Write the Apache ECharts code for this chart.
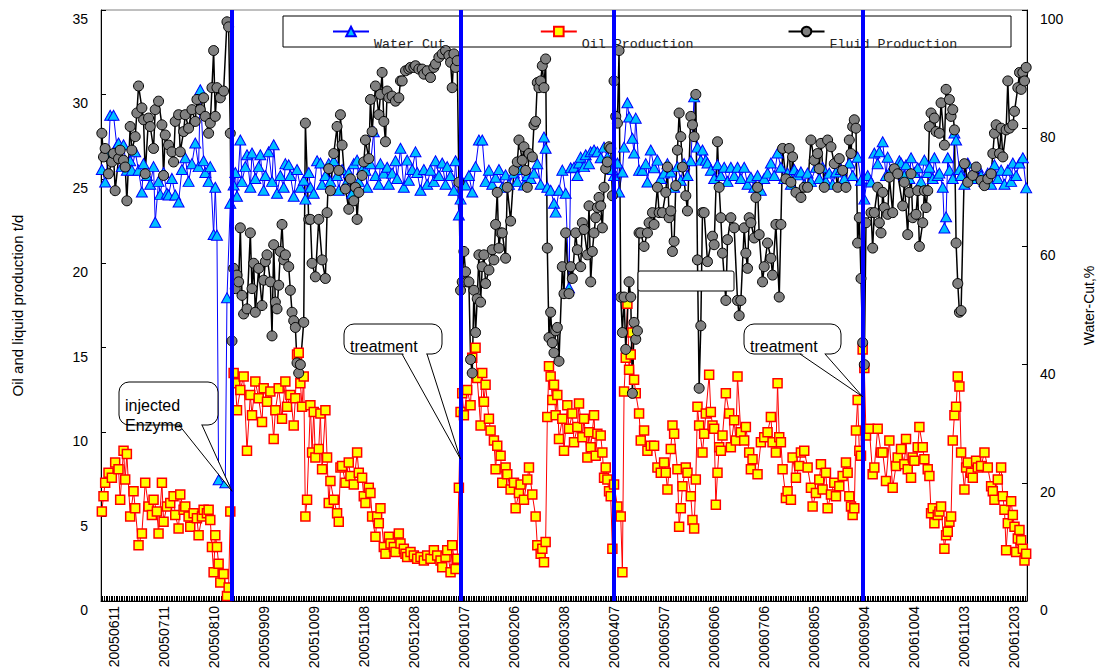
<!DOCTYPE html>
<html>
<head>
<meta charset="utf-8">
<script src="https://cdn.jsdelivr.net/npm/echarts@6/dist/echarts.min.js"></script>
<style>html,body{margin:0;padding:0;background:#fff}#chart{width:1101px;height:669px}</style>
</head>
<body>
<div id="chart"></div>
<script>
// ---------------- data ----------------
const startDate = [2005, 6, 4];      // first category (y, m, d)
const dayCount = 555;                // daily categories
const labelOffset = 7;               // first labelled category (20050611)
const labelStep = 30;                // one label every 30 days
const seriesNames = ['Water Cut', 'Oil Production', 'Fluid Production'];
const treatmentDays = [78, 215, 307, 456];
const leftAxis = { min: 0, max: 35, step: 5, title: 'Oil and liquid production t/d' };
const rightAxis = { min: 0, max: 100, step: 20, title: 'Water-Cut,%' };
const calloutTexts = ['injected\nEnzyme', 'treatment', 'treatment'];
const calloutTargets = [[78, 6.5], [215, 8.4], [456, 12.1]]; // [day, t/d]

// [day index, value]
const waterCut = [
[0,73.0],[2,70.9],[4,75.5],[5,82.2],[7,82.2],[9,77.0],[10,77.5],[12,73.5],[13,77.2],[15,72.9],[17,74.5],[18,72.9],[20,76.0],[22,72.9],[24,69.2],[25,74.0],[27,72.0],[29,70.5],[31,73.5],[32,64.1],[34,71.0],[35,68.8],[37,72.5],[39,69.0],[40,68.7],[42,71.5],[44,68.7],[46,67.5],[48,73.0],[50,75.0],[52,71.0],[54,74.0],[56,77.5],[58,73.5],[59,86.5],[61,74.5],[62,72.5],[64,71.0],[65,73.5],[67,62.0],[68,70.0],[69,61.9],[70,20.5],[74,20.0],[75,51.3],[77,67.3],
[79,70.4],[80,72.5],[81,68.5],[83,78.0],[84,71.0],[86,73.5],[87,75.5],[89,70.0],[90,75.8],[92,71.5],[94,73.5],[95,75.5],[97,69.5],[98,72.0],[100,76.0],[102,71.0],[103,77.2],[105,69.0],[107,72.0],[109,70.0],[110,74.0],[112,73.8],[113,72.0],[115,68.5],[117,73.0],[119,70.0],[121,71.2],[122,68.0],[124,72.5],[125,70.0],[127,69.0],[129,74.5],[131,74.1],[132,70.5],[134,72.0],[136,74.0],[137,71.0],[139,74.5],[141,72.0],[142,69.5],[144,73.0],[146,70.5],[148,72.5],[150,69.0],[151,74.0],[153,74.6],[154,71.0],[156,73.0],[158,72.9],[159,70.0],[161,74.0],[163,79.4],[164,72.0],[166,70.5],[167,74.0],[169,72.4],[171,73.4],[172,70.5],[174,72.4],[176,74.5],[177,71.5],[179,76.6],[181,70.0],[183,74.6],[184,71.2],[186,73.0],[188,76.0],[189,72.5],[191,69.5],[193,73.0],[195,70.5],[197,72.9],[199,71.0],[200,74.5],[202,72.0],[204,74.1],[206,70.5],[207,73.5],[209,72.0],[211,69.5],[212,74.5],[214,65.3],
[215,68.0],[216,71.0],[218,70.4],[220,72.0],[222,69.2],[224,73.5],[226,78.0],[228,78.0],[230,71.0],[232,72.9],[234,70.5],[236,71.7],[238,73.0],[240,70.0],[242,72.1],[244,70.5],[247,72.4],[249,71.0],[251,73.0],[253,70.4],[255,72.0],[257,71.5],[259,72.4],[261,74.0],[263,70.5],[265,78.5],[266,76.6],[267,70.0],[269,69.5],[271,67.3],[272,65.8],[274,69.5],[276,72.9],[278,69.0],[280,53.0],[281,73.3],[283,73.4],[285,72.0],[286,74.1],[287,75.1],[289,73.5],[290,75.5],[292,74.0],[293,76.0],[295,76.3],[297,76.0],[299,75.0],[301,76.8],[303,75.1],[305,74.1],[306,73.0],
[307,72.0],[309,74.1],[310,69.2],[312,72.6],[313,76.8],[315,84.3],[316,81.9],[318,78.3],[319,75.8],[320,81.7],[322,72.9],[324,72.9],[326,74.0],[327,70.9],[329,76.3],[331,73.3],[333,74.6],[335,71.5],[337,72.4],[339,74.0],[341,72.6],[343,70.0],[345,73.5],[347,71.2],[349,74.0],[351,72.0],[353,74.5],[355,85.3],[357,76.8],[359,74.6],[360,76.3],[362,74.6],[363,74.1],[365,72.9],[367,71.5],[369,73.8],[371,72.0],[373,73.4],[375,71.0],[377,73.4],[379,72.0],[381,73.4],[383,71.5],[385,73.4],[387,70.5],[389,71.7],[391,70.0],[393,72.0],[395,69.5],[397,71.5],[399,72.4],[401,74.1],[403,72.0],[405,75.8],[407,73.4],[409,71.5],[411,72.4],[413,70.5],[415,73.0],[417,72.1],[419,72.6],[421,70.5],[423,72.4],[425,71.0],[428,73.4],[430,71.5],[432,73.4],[434,71.0],[436,72.4],[438,70.5],[440,72.6],[443,73.0],[445,71.5],[448,74.1],[450,72.0],[453,75.1],[455,71.2],
[457,68.0],[459,72.0],[461,70.9],[463,75.8],[465,74.0],[466,76.0],[468,77.7],[470,72.0],[471,75.1],[473,73.0],[476,72.9],[478,74.5],[479,74.1],[481,72.0],[482,73.8],[484,71.5],[485,75.0],[487,72.5],[489,73.3],[491,71.0],[493,74.6],[495,72.5],[496,73.4],[498,71.5],[499,75.0],[501,72.0],[502,72.4],[504,70.0],[505,63.1],[506,65.0],[507,75.0],[508,72.9],[510,71.5],[511,79.2],[512,78.0],[514,73.0],[515,72.0],[517,70.5],[519,74.1],[521,72.0],[523,71.5],[525,73.4],[527,72.0],[529,71.0],[531,72.4],[533,70.5],[535,73.8],[537,71.5],[539,72.9],[541,70.5],[543,72.9],[545,71.0],[546,74.1],[548,72.0],[550,74.1],[552,75.0],[554,69.9]
];

const oilProduction = [
[0,5.3],[1,6.2],[2,7.0],[4,7.6],[6,7.3],[8,8.2],[10,7.8],[11,6.0],[13,8.9],[14,7.2],[15,8.7],[17,5.0],[19,6.5],[20,5.5],[22,3.3],[24,4.0],[26,7.0],[28,5.6],[30,5.1],[31,6.0],[33,5.3],[34,4.0],[36,7.0],[37,4.7],[39,5.6],[41,5.8],[43,6.2],[44,5.1],[46,4.3],[47,6.3],[49,5.4],[50,5.6],[52,5.0],[53,4.4],[55,5.2],[57,4.9],[58,3.9],[60,5.0],[61,5.4],[63,5.2],[64,5.4],[65,4.8],[66,3.2],[67,1.7],[68,3.9],[69,3.2],[70,2.2],[71,1.1],[73,1.6],[75,0.3],[76,0.8],[77,5.3],
[79,13.5],[80,12.9],[81,11.3],[83,12.5],[85,13.3],[87,8.9],[89,12.2],[90,11.0],[92,13.0],[94,12.0],[96,10.6],[97,12.6],[99,11.8],[101,12.4],[103,9.6],[104,11.3],[106,12.6],[108,10.8],[110,13.0],[111,11.5],[113,12.2],[115,10.4],[116,12.0],[117,14.6],[118,14.7],[119,12.9],[120,11.5],[121,13.3],[122,5.0],[123,6.0],[125,11.6],[126,8.8],[127,11.2],[128,8.5],[130,9.0],[131,11.1],[132,7.8],[134,11.3],[135,8.5],[136,5.8],[137,7.1],[139,6.0],[141,5.2],[142,4.7],[143,7.9],[144,8.0],[146,7.0],[148,8.2],[149,7.4],[151,6.9],[153,8.8],[154,7.6],[156,7.3],[157,6.2],[158,5.8],[160,6.7],[161,6.4],[162,5.0],[164,3.8],[165,5.0],[166,4.6],[167,5.5],[169,3.2],[170,2.8],[172,3.8],[173,3.4],[175,3.2],[176,2.9],[178,4.0],[179,3.4],[181,3.1],[182,2.8],[183,2.6],[185,2.9],[187,2.7],[189,2.5],[191,2.6],[193,2.4],[195,2.7],[197,2.5],[199,3.0],[201,2.7],[203,2.4],[204,2.0],[206,2.6],[207,3.0],[209,1.7],[210,3.3],[212,1.9],[213,2.5],[214,6.7],
[215,11.2],[216,12.3],[217,11.0],[219,12.5],[221,11.6],[222,14.4],[224,15.0],[225,13.2],[227,10.4],[228,13.5],[229,11.8],[230,12.8],[232,10.8],[233,10.1],[235,9.5],[236,7.8],[237,9.2],[239,8.6],[240,7.0],[242,7.9],[243,7.5],[245,6.6],[247,7.0],[248,5.5],[250,6.4],[251,6.9],[253,6.0],[255,7.2],[256,7.9],[258,6.3],[260,5.0],[261,3.3],[263,2.8],[264,3.1],[265,2.3],[266,3.5],[267,10.9],[268,13.9],[269,13.3],[270,11.9],[271,12.8],[272,11.0],[273,12.2],[274,9.6],[276,10.8],[277,8.9],[279,11.6],[280,10.2],[282,11.1],[283,9.4],[285,10.3],[286,11.7],[288,9.7],[289,10.8],[291,8.5],[292,10.0],[293,9.1],[295,11.0],[296,8.6],[297,9.9],[299,9.8],[300,8.8],[301,7.3],[302,7.9],[303,7.2],[304,6.5],[305,6.2],[306,3.1],
[307,6.9],[309,5.6],[311,5.0],[312,1.7],[313,12.4],[314,14.4],[315,17.6],[316,13.7],[317,14.6],[318,15.9],[319,13.1],[320,12.3],[322,11.1],[323,9.5],[325,10.1],[327,8.9],[329,9.2],[331,9.2],[333,7.9],[335,7.6],[337,8.2],[338,7.6],[339,6.6],[341,9.0],[342,10.4],[343,9.9],[345,7.8],[346,4.4],[347,5.5],[348,6.8],[350,7.9],[351,7.6],[353,6.2],[354,4.8],[355,4.3],[356,7.2],[357,11.5],[358,10.4],[360,8.8],[361,9.9],[362,11.1],[364,13.4],[365,11.2],[366,10.4],[367,10.2],[368,5.7],[369,7.6],[370,9.1],[371,8.9],[372,9.8],[374,12.3],[376,11.1],[377,9.1],[379,10.7],[380,9.5],[381,13.3],[383,10.0],[385,9.5],[386,10.3],[388,8.8],[389,7.8],[390,8.4],[393,7.5],[395,9.4],[397,9.7],[399,10.0],[401,10.9],[402,9.4],[404,8.8],[405,12.9],[406,9.7],[407,9.4],[408,7.8],[410,6.1],[411,6.5],[413,6.0],[414,8.5],[416,7.3],[418,8.0],[419,8.8],[421,8.9],[423,7.9],[425,6.7],[426,5.6],[428,6.4],[430,7.2],[431,8.1],[432,6.6],[434,7.6],[435,5.5],[437,6.3],[439,7.0],[440,6.2],[442,6.8],[444,7.4],[446,8.2],[447,7.6],[448,6.2],[449,5.6],[450,5.1],[451,5.5],[452,10.1],[453,11.9],[454,8.9],[455,8.6],[456,14.9],[457,13.8],
[458,9.8],[460,10.2],[462,7.5],[463,7.9],[465,10.2],[467,8.8],[468,8.8],[470,7.1],[472,9.5],[474,6.7],[476,8.0],[477,8.5],[479,9.0],[481,8.1],[482,9.6],[483,7.8],[485,7.3],[486,8.5],[487,8.3],[489,9.1],[490,10.3],[492,9.1],[493,8.4],[495,7.8],[496,7.4],[497,5.2],[498,5.5],[499,4.6],[501,5.1],[502,5.3],[503,5.6],[505,3.1],[506,3.9],[507,4.1],[508,4.7],[509,5.0],[510,9.5],[511,11.0],[512,11.5],[513,13.3],[514,12.7],[515,8.8],[517,6.6],[518,7.9],[519,8.2],[521,7.6],[522,7.3],[524,8.3],[525,7.9],[527,8.0],[529,8.8],[531,7.9],[533,6.8],[534,6.5],[535,6.0],[537,7.2],[539,7.9],[540,6.2],[541,5.4],[542,3.0],[543,4.6],[545,5.9],[546,5.1],[547,4.4],[548,2.9],[549,3.7],[550,4.2],[551,3.6],[552,3.1],[553,2.4],[554,2.8]
];

const fluidProduction = [
[0,27.7],[1,26.3],[2,26.8],[4,25.3],[6,26.0],[7,26.5],[8,24.3],[10,26.2],[11,26.7],[13,26.1],[14,25.7],[15,23.7],[17,28.1],[18,26.7],[20,27.5],[21,28.9],[22,30.5],[24,29.2],[25,28.5],[26,25.3],[28,28.6],[29,28.1],[31,26.8],[32,29.1],[34,29.6],[36,28.2],[37,25.2],[38,27.6],[40,27.0],[42,26.6],[43,26.0],[44,28.4],[46,28.8],[47,26.6],[49,27.8],[50,28.8],[52,28.0],[54,29.1],[56,28.4],[57,29.7],[59,29.1],[61,29.8],[62,28.7],[64,27.7],[65,28.3],[66,30.4],[67,32.6],[68,28.7],[69,30.4],[71,29.8],[73,30.2],[75,34.3],[76,34.0],[77,27.7],
[78,15.4],[79,19.7],[80,18.5],[81,19.3],[82,18.9],[83,22.1],[84,18.1],[85,17.0],[87,17.3],[89,21.8],[90,18.5],[91,20.0],[92,17.1],[94,19.7],[96,17.5],[97,19.0],[98,20.1],[99,20.5],[101,18.9],[102,15.7],[103,21.1],[104,17.7],[105,17.3],[106,18.7],[107,20.7],[108,22.3],[109,20.2],[110,20.5],[112,19.8],[113,18.4],[114,17.1],[115,16.6],[116,16.2],[117,14.1],[118,13.5],[119,14.0],[121,16.5],[122,28.3],[124,22.6],[125,22.6],[126,20.0],[128,19.2],[130,22.6],[132,20.2],[134,19.1],[135,23.0],[136,25.6],[137,24.3],[139,26.5],[141,28.1],[142,25.5],[143,28.8],[144,27.0],[146,24.4],[148,23.2],[149,25.0],[151,23.7],[152,24.5],[153,22.6],[154,24.2],[156,25.2],[157,26.0],[158,27.3],[160,26.2],[161,29.7],[162,27.8],[164,30.5],[166,28.8],[167,30.0],[168,31.3],[169,28.4],[170,27.2],[171,30.2],[172,29.8],[174,29.9],[176,29.6],[178,29.8],[179,30.8],[180,30.8],[182,31.4],[184,31.5],[185,31.6],[187,31.6],[188,31.7],[190,31.5],[192,31.5],[193,31.2],[195,31.4],[197,31.0],[199,31.6],[200,31.8],[202,32.2],[204,32.4],[206,32.6],[208,32.3],[209,31.9],[210,30.4],[211,32.4],[212,31.6],[213,32.0],[214,24.8],
[215,18.4],[216,18.9],[217,20.7],[218,19.5],[219,18.9],[220,18.9],[221,14.3],[222,13.5],[223,18.4],[224,15.9],[225,17.9],[226,20.5],[227,17.7],[228,19.8],[229,20.5],[230,18.8],[232,19.6],[234,20.8],[235,20.2],[236,22.3],[237,24.2],[238,20.9],[239,21.8],[240,21.8],[242,20.3],[243,24.5],[245,22.5],[247,25.5],[249,26.0],[250,27.3],[252,26.1],[253,26.9],[254,25.5],[255,24.5],[256,26.5],[258,26.3],[259,28.2],[260,28.4],[261,30.7],[262,30.4],[263,30.8],[264,31.7],[265,30.4],[266,32.1],[267,20.9],[268,15.6],[269,17.1],[270,15.3],[271,14.7],[272,16.0],[273,16.2],[274,14.2],[276,19.8],[277,18.2],[278,21.8],[280,18.2],[281,19.8],[282,19.1],[284,21.8],[285,20.8],[287,19.8],[288,22.4],[289,22.0],[291,20.5],[292,23.4],[293,18.9],[294,20.7],[295,21.8],[296,22.7],[297,23.3],[298,23.9],[299,23.4],[300,22.1],[301,24.5],[302,25.6],[303,26.0],[304,26.9],[305,26.8],[306,24.0],
[307,30.8],[308,28.7],[309,28.3],[310,32.6],[311,18.0],[312,15.9],[313,18.0],[314,14.9],[316,18.9],[317,18.0],[318,12.3],[319,16.5],[320,15.5],[321,16.0],[322,21.8],[323,21.8],[325,21.0],[327,21.8],[328,22.4],[330,23.0],[331,22.3],[333,24.5],[334,23.0],[336,23.0],[338,24.2],[339,25.7],[340,22.7],[341,23.1],[342,20.7],[343,21.3],[344,24.6],[345,26.7],[346,28.9],[347,27.5],[348,25.7],[350,24.0],[351,23.1],[353,28.7],[354,28.2],[355,27.5],[356,30.0],[357,20.2],[358,12.6],[359,16.3],[360,23.0],
[361,23.0],[363,20.1],[366,21.6],[367,21.1],[369,27.2],[370,24.5],[371,22.7],[372,20.6],[374,17.8],[375,21.4],[377,22.7],[379,22.1],[381,17.8],[382,16.9],[383,17.8],[385,22.1],[386,20.6],[387,19.7],[388,22.7],[389,22.4],[391,21.5],[392,23.9],[393,24.5],[394,21.7],[396,18.9],[397,19.8],[399,21.2],[401,20.3],[402,19.3],[404,22.3],[406,18.0],[407,22.3],[408,26.8],[410,25.0],[412,26.8],[413,24.8],[414,26.3],[416,24.2],[419,23.9],[421,24.5],[423,24.5],[425,27.3],[427,26.1],[429,26.5],[430,25.6],[431,27.1],[433,24.5],[435,27.3],[437,26.9],[439,25.9],[441,24.5],[442,26.2],[444,25.5],[446,24.5],[448,27.3],[449,26.5],[450,28.1],[451,28.5],[452,28.0],[453,21.2],[454,22.7],[455,19.1],[456,15.3],[457,14.0],
[458,22.4],[461,23.0],[462,20.9],[463,23.0],[465,24.5],[466,22.4],[467,21.8],[468,24.2],[469,23.3],[471,22.9],[472,25.1],[474,23.0],[475,25.6],[477,25.3],[480,23.4],[481,24.8],[483,21.7],[484,24.2],[485,25.3],[486,22.7],[488,22.9],[489,24.3],[490,21.0],[492,22.4],[493,24.3],[494,23.3],[495,24.3],[496,28.1],[497,28.9],[499,28.6],[500,27.8],[502,27.7],[503,29.5],[505,27.0],[506,30.3],[508,29.7],[509,28.7],[510,29.1],[511,27.9],[512,21.2],[513,18.8],[514,17.1],[515,17.2],[517,25.9],[519,24.8],[522,25.2],[524,25.7],[527,24.9],[529,24.6],[531,25.0],[533,25.3],[534,26.5],[535,27.7],[536,28.2],[538,26.5],[539,28.0],[540,26.3],[542,27.9],[543,30.8],[544,28.0],[546,28.2],[547,29.0],[549,30.4],[550,31.3],[551,30.3],[552,31.3],[553,30.8],[554,31.6]
];

// ---------------- categories ----------------
const categories = [];
(function () {
  const t0 = Date.UTC(startDate[0], startDate[1] - 1, startDate[2]);
  for (let i = 0; i < dayCount; i++) {
    const d = new Date(t0 + i * 86400000);
    const s = d.getUTCFullYear() + String(d.getUTCMonth() + 1).padStart(2, '0') + String(d.getUTCDate()).padStart(2, '0');
    categories.push(s);
  }
})();

// ---------------- layout / style ----------------
const SANS = '"Liberation Sans", Arial, sans-serif';
const MONO = '"Liberation Mono", "Courier New", monospace';
const calloutBoxes = [
  { box: [119, 382, 99, 43], tail: [179, 202], textPos: [125, 415] },
  { box: [344, 324, 98, 30], tail: [402, 427], textPos: [350, 346] },
  { box: [744, 324, 97, 30], tail: [800, 825], textPos: [750, 346] }
];
// y-axis labels sit a little below their ticks, as in the original
const yLabelRich = { v: { fontFamily: SANS, fontSize: 14, color: '#000', lineHeight: 16, padding: [2, 0, 0, 0] } };

const chart = echarts.init(document.getElementById('chart'), null, { renderer: 'svg' });

const axisCommon = {
  axisLine: { show: true, lineStyle: { color: '#000', width: 1 } },
  axisTick: { show: true, inside: true, length: 5, lineStyle: { color: '#000' } },
  splitLine: { show: false }
};

chart.setOption({
  animation: false,
  backgroundColor: '#fff',
  grid: {
    left: 101, right: 74, top: 10, bottom: 68, containLabel: false, outerBoundsMode: 'none',
    show: true, borderColor: '#808080', borderWidth: 1
  },
  legend: {
    data: seriesNames, left: 332, top: 12, padding: 0, itemGap: 94,
    itemWidth: 36, itemHeight: 12, selectedMode: false,
    formatter: (name) => '{t|' + name + '}',
    textStyle: {
      fontFamily: MONO, fontSize: 13.3, color: '#222',
      rich: { t: { fontFamily: MONO, fontSize: 13.3, color: '#222', lineHeight: 15, padding: [26, 0, 0, 0] } }
    }
  },
  xAxis: Object.assign({}, axisCommon, {
    type: 'category', data: categories, boundaryGap: true,
    axisTick: { show: true, inside: true, length: 5, interval: 0, lineStyle: { color: '#000' } },
    axisLabel: {
      interval: (i) => i % labelStep === labelOffset,
      rotate: 90, fontSize: 14, fontFamily: SANS, color: '#000', margin: 5
    }
  }),
  yAxis: [
    Object.assign({}, axisCommon, {
      type: 'value', position: 'left', min: leftAxis.min, max: leftAxis.max, interval: leftAxis.step,
      name: leftAxis.title, nameLocation: 'middle', nameRotate: 90, nameGap: 76,
      nameTextStyle: { fontFamily: SANS, fontSize: 15, color: '#000' },
      axisLabel: { margin: 13, verticalAlign: 'top', formatter: (v) => '{v|' + v + '}', rich: yLabelRich }
    }),
    Object.assign({}, axisCommon, {
      type: 'value', position: 'right', min: rightAxis.min, max: rightAxis.max, interval: rightAxis.step,
      name: rightAxis.title, nameLocation: 'middle', nameRotate: 90, nameGap: 55,
      nameTextStyle: { fontFamily: SANS, fontSize: 14, color: '#000' },
      axisLabel: { margin: 13, verticalAlign: 'top', formatter: (v) => '{v|' + v + '}', rich: yLabelRich }
    })
  ],
  series: [
    {
      name: seriesNames[0], type: 'line', yAxisIndex: 1, data: waterCut,
      symbol: 'triangle', symbolSize: [11, 10], showAllSymbol: true,
      lineStyle: { color: '#0000FF', width: 1 },
      itemStyle: { color: '#00C0FF', borderColor: '#0000FF', borderWidth: 1 },
      emphasis: { disabled: true }, z: 2
    },
    {
      name: seriesNames[1], type: 'line', yAxisIndex: 0, data: oilProduction,
      symbol: 'rect', symbolSize: 9, showAllSymbol: true,
      lineStyle: { color: '#FF0000', width: 1 },
      itemStyle: { color: '#FFFF00', borderColor: '#FF0000', borderWidth: 1.5 },
      emphasis: { disabled: true }, z: 2
    },
    {
      name: seriesNames[2], type: 'line', yAxisIndex: 0, data: fluidProduction,
      symbol: 'circle', symbolSize: 10, showAllSymbol: true,
      lineStyle: { color: '#000', width: 1.5 },
      itemStyle: { color: '#808080', borderColor: '#000', borderWidth: 1 },
      emphasis: { disabled: true }, z: 2
    },
    {
      name: 'treatment dates', type: 'line', yAxisIndex: 0, data: [], z: 10,
      markLine: {
        silent: true, symbol: ['none', 'none'], label: { show: false },
        lineStyle: { color: '#0000FF', width: 4, type: 'solid' },
        data: treatmentDays.map((d) => ({ xAxis: categories[d] }))
      }
    }
  ]
});

// ---------------- annotations ----------------
const graphics = [
  { type: 'rect', z: 1, shape: { x: 283, y: 16, width: 728, height: 31 },
    style: { fill: '#fff', stroke: '#000', lineWidth: 1 } },
  { type: 'rect', z: 100, shape: { x: 638, y: 271, width: 96, height: 20, r: 2 },
    style: { fill: '#fff', stroke: '#000', lineWidth: 1 } }
];
calloutBoxes.forEach((c, i) => {
  const tgt = calloutTargets[i];
  const tip = chart.convertToPixel({ xAxisIndex: 0, yAxisIndex: 0 }, [categories[tgt[0]], tgt[1]]);
  const [x, y, w, h] = c.box;
  const b = y + h;
  graphics.push(
    { type: 'rect', z: 100, shape: { x, y, width: w, height: h, r: 10 },
      style: { fill: '#fff', stroke: '#000', lineWidth: 1 } },
    { type: 'polygon', z: 101, shape: { points: [[c.tail[0] + 1, b - 1], tip, [c.tail[1] - 1, b - 1]] },
      style: { fill: '#fff', stroke: null } },
    { type: 'polyline', z: 102, shape: { points: [[c.tail[0], b], tip, [c.tail[1], b]] },
      style: { fill: null, stroke: '#000', lineWidth: 1 } },
    { type: 'text', z: 103, x: c.textPos[0], y: c.textPos[1],
      style: { text: calloutTexts[i], fontFamily: SANS, fontSize: 16, fill: '#000',
               verticalAlign: 'middle', align: 'left', lineHeight: 20 } }
  );
});
chart.setOption({ graphic: { elements: graphics } });
</script>
</body>
</html>
